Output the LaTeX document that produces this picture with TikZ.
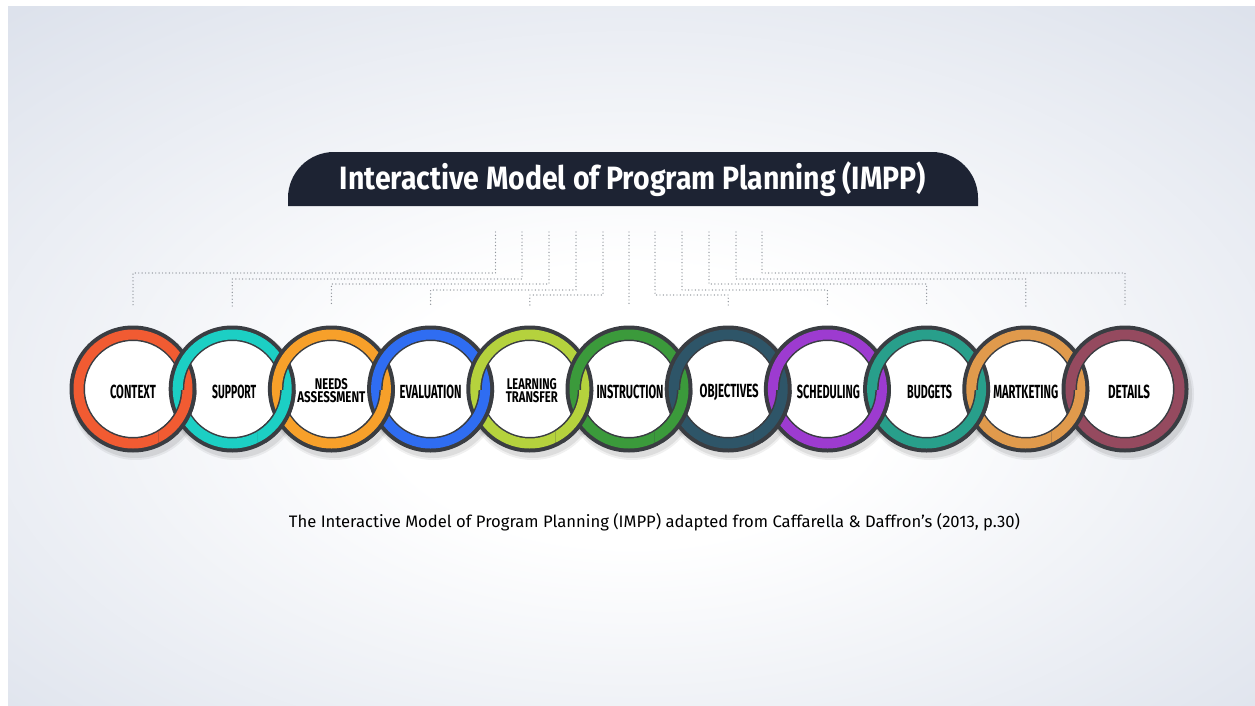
\documentclass[tikz,border=0pt]{standalone}
\usepackage{fontspec}
\setmainfont{Fira Sans}
\newfontfamily\lblfont{Fira Sans}[FakeStretch=0.62]
\newfontfamily\ttlfont{Fira Sans}[FakeStretch=0.88]
\usetikzlibrary{calc}
\definecolor{bgedge}{HTML}{D6DCE8}
\definecolor{navy}{HTML}{1D2333}
\definecolor{ringdark}{HTML}{3A3D42}
\definecolor{dotgray}{HTML}{8E939A}
\definecolor{c1}{HTML}{F15B32}
\definecolor{c2}{HTML}{1CCFC4}
\definecolor{c3}{HTML}{F7A02A}
\definecolor{c4}{HTML}{2F6DF2}
\definecolor{c5}{HTML}{B5D23D}
\definecolor{c6}{HTML}{3B9A3B}
\definecolor{c7}{HTML}{2E5568}
\definecolor{c8}{HTML}{9D3BD0}
\definecolor{c9}{HTML}{289F8B}
\definecolor{c10}{HTML}{E09A4C}
\definecolor{c11}{HTML}{954A5F}
\pgfdeclareradialshading{bgshade}{\pgfpoint{0bp}{-4bp}}{color(0bp)=(white); color(10bp)=(white); color(42bp)=(bgedge); color(80bp)=(bgedge)}
\newcommand\lbl[3]{\resizebox{#1pt}{#2pt}{\lblfont\bfseries #3}}
\newcommand\ringband[1]{%
  \fill[ringdark,even odd rule] (r#1.center) circle (63.5pt) circle (48pt);
  \fill[c#1,even odd rule] (r#1.center) circle (59.5pt) circle (49.5pt);}
\tikzset{
  ringnode/.style={circle, minimum size=127pt, inner sep=0pt},
  lblnode/.style={inner sep=0pt, align=center, font=\fontsize{10}{13}\selectfont},
  dotline/.style={draw=dotgray, line width=1.4pt, dash pattern=on 0pt off 3.4pt, line cap=round},
}
\begin{document}
\begin{tikzpicture}[x=1pt,y=-1pt]
\useasboundingbox (0,0) rectangle (1255,706);
\fill[white] (0,0) rectangle (1255,706);
\shade[shading=bgshade] (8,7) rectangle (1255,706);
% title banner
\fill[navy] (288,206) [rounded corners=46pt] -- (288,152) -- (978,152) [sharp corners] -- (978,206) -- cycle;
\node[inner sep=0pt, text=white] (title) at (633,179) {\resizebox{586pt}{!}{\ttlfont\bfseries Interactive Model of Program Planning (IMPP)}};
% ring nodes
\foreach \i in {1,...,11} {
  \node[ringnode] (r\i) at ({133+99.2*(\i-1)},389) {};
}
% connectors
\foreach \i/\x/\y in {1/495.5/273, 2/522/279, 3/549/284, 4/576/290, 5/603/295, 7/655/295, 8/682/290, 9/709/284, 10/736/279, 11/762/273} {
  \coordinate (t\i) at (\x,232);
  \draw[dotline, shorten >=19pt] (t\i) -- (\x,\y) -| (r\i.north);
}
\coordinate (t6) at (629,232);
\draw[dotline, shorten >=19pt] (t6) -- (r6.north);
% shadows
\foreach \i in {1,...,11} {
  \fill[black, opacity=0.06] ($(r\i.center)+(3,5)$) circle (66pt);
  \fill[black, opacity=0.08] ($(r\i.center)+(3,5)$) circle (64pt);
}
% white discs
\foreach \i in {1,...,11} {
  \fill[white] (r\i.center) circle (49pt);
}
% bands
\foreach \i in {1,...,11} { \ringband{\i} }
% lower crossings: left ring on top
\foreach \i [evaluate=\i as \j using int(\i+1)] in {1,...,10} {
  \begin{scope}
    \clip ($(r\i.center)!0.5!(r\j.center)+(-24,1)$) rectangle ++(48,52);
    \ringband{\i}
  \end{scope}
}
% labels
\node[lblnode] (l1) at ($(r1.center)+(0,3)$) {\lbl{46}{13.5}{CONTEXT}};
\node[lblnode] (l2) at ($(r2.center)+(2,3)$) {\lbl{44}{13.5}{SUPPORT}};
\node[lblnode] (l3) at ($(r3.center)+(0,1.5)$) {\lbl{33}{11}{NEEDS}\\\lbl{68}{11}{ASSESSMENT}};
\node[lblnode] (l4) at ($(r4.center)+(0,3)$) {\lbl{62}{13.5}{EVALUATION}};
\node[lblnode] (l5) at ($(r5.center)+(2,1.5)$) {\lbl{50}{11}{LEARNING}\\\lbl{52}{11}{TRANSFER}};
\node[lblnode] (l6) at ($(r6.center)+(1,3)$) {\lbl{67}{13.5}{INSTRUCTION}};
\node[lblnode] (l7) at ($(r7.center)+(1,3)$) {\lbl{59}{13.5}{OBJECTIVES}};
\node[lblnode] (l8) at ($(r8.center)+(1,3)$) {\lbl{63}{13.5}{SCHEDULING}};
\node[lblnode] (l9) at ($(r9.center)+(3,3)$) {\lbl{45}{13.5}{BUDGETS}};
\node[lblnode] (l10) at ($(r10.center)+(0,3)$) {\lbl{65}{13.5}{MARTKETING}};
\node[lblnode] (l11) at ($(r11.center)+(4,3)$) {\lbl{42}{13.5}{DETAILS}};
% caption
\node[inner sep=0pt, text=black] (cap) at (654.5,522) {\resizebox{731pt}{!}{The Interactive Model of Program Planning (IMPP) adapted from Caffarella \& Daffron's (2013, p.30)}};
\end{tikzpicture}
\end{document}
